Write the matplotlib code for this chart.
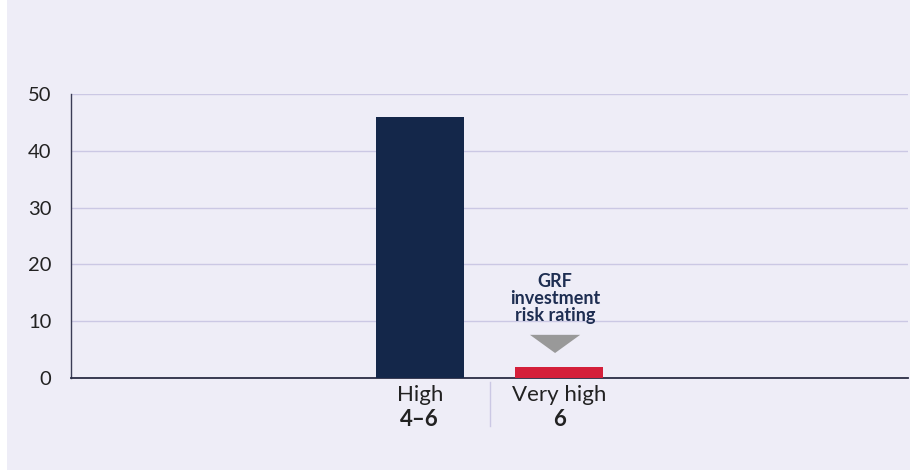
import matplotlib
matplotlib.use('Agg')
import matplotlib.pyplot as plt
from matplotlib.patches import Rectangle, Polygon

# Data
categories = ['Very low', 'Low', 'High', 'Very high', 'Extreme', 'Other']
values = [0, 0, 46, 2, 0, 0]
bar_colors = ['#14274A', '#14274A', '#14274A', '#D41F3A', '#14274A', '#14274A']
top_labels = ['', '', 'High', 'Very high', '', '']
bottom_labels = ['', '', '4–6', '6', '', '']
annotation = 'GRF\ninvestment\nrisk rating'
yticks = [0, 10, 20, 30, 40, 50]

plt.rcParams['font.family'] = ['Lato', 'DejaVu Sans']

bg = '#EEEDF7'
fig = plt.figure(figsize=(9.1, 4.7), dpi=100, facecolor='white')
fig.patches.append(Rectangle((7 / 910, 0), 1, 1, transform=fig.transFigure,
                             facecolor=bg, edgecolor='none', zorder=-10))
ax = fig.add_axes([71 / 910, (470 - 378) / 470, (908 - 71) / 910, (378 - 94) / 470])
ax.set_facecolor(bg)

x = list(range(len(categories)))
for i, v in enumerate(values):
    if v > 0:
        ax.bar(i, v, width=0.63, color=bar_colors[i], zorder=3)

ax.set_xlim(-0.5, len(categories) - 0.5)
ax.set_ylim(0, 50)
ax.set_yticks(yticks)
ax.set_yticklabels([str(t) for t in yticks], fontsize=14.5, color='#222222')
ax.tick_params(axis='y', length=0, pad=14)
ax.set_xticks([])
ax.grid(axis='y', color='#CBC8E4', linewidth=1, zorder=0)
for s in ['top', 'right']:
    ax.spines[s].set_visible(False)
ax.spines['left'].set_color('#3A3C55')
ax.spines['bottom'].set_color('#2A2D45')
ax.spines['left'].set_linewidth(1)
ax.spines['bottom'].set_linewidth(1.3)

# category labels below axis
trans = ax.get_xaxis_transform()
for i in x:
    if top_labels[i]:
        ax.text(i, -0.025, top_labels[i], transform=trans, ha='center', va='top',
                fontsize=16, color='#222222')
        ax.text(i, -0.11, bottom_labels[i], transform=trans, ha='center', va='top',
                fontsize=16, fontweight='bold', color='#222222')
ax.plot([2.5, 2.5], [-0.015, -0.17], transform=trans, color='#CBC8E4',
        linewidth=1, clip_on=False)

# annotation above the "Very high" bar
ax.text(2.97, 18.5, annotation, ha='center', va='top', fontsize=13,
        fontweight='bold', color='#1E2E52', linespacing=1.0)
tri = Polygon([(2.79, 7.6), (3.15, 7.6), (2.97, 4.4)], closed=True,
              facecolor='#999999', edgecolor='none', zorder=4)
ax.add_patch(tri)

plt.savefig('out.png', dpi=100, facecolor=fig.get_facecolor())
